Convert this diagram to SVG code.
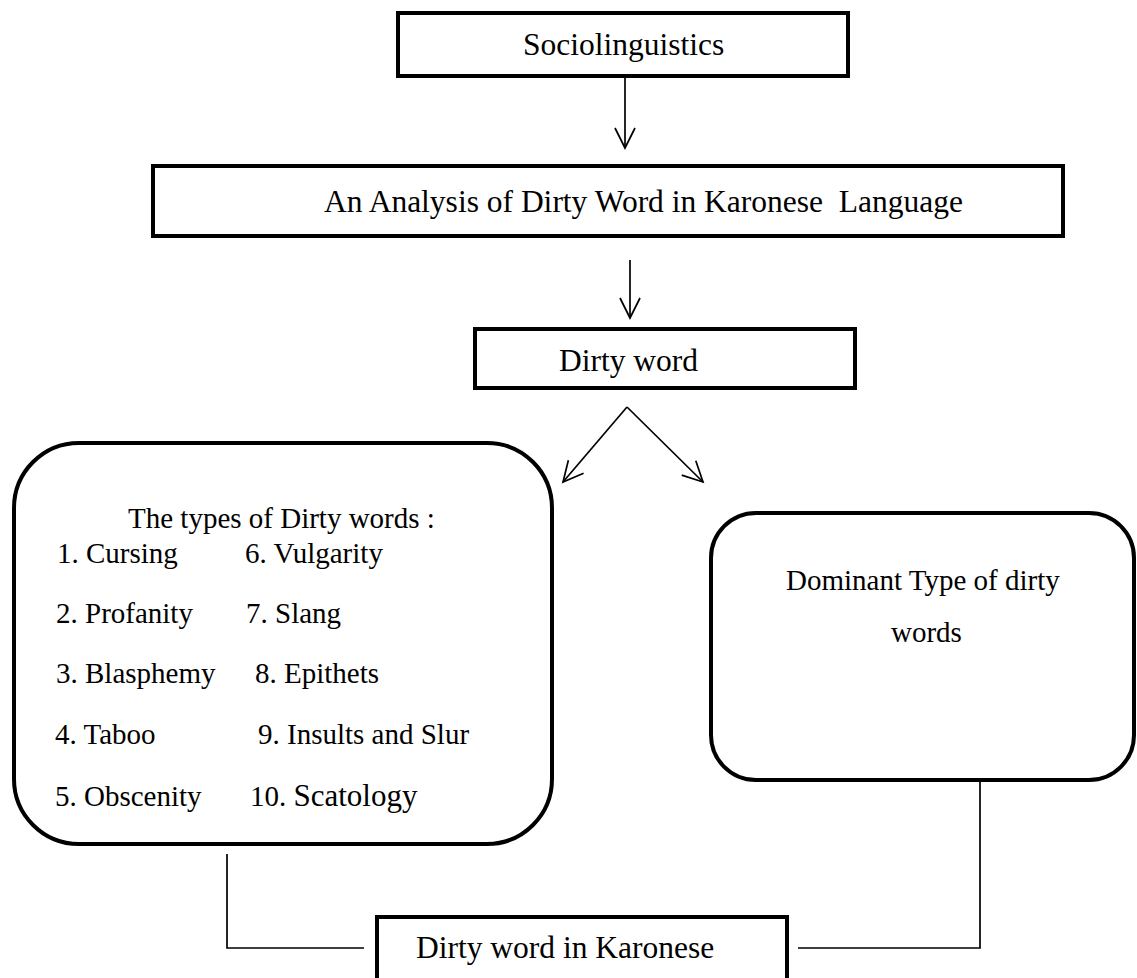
<svg xmlns="http://www.w3.org/2000/svg" width="1137" height="978" viewBox="0 0 1137 978">
<style>
  .box { fill: #ffffff; stroke: #000000; stroke-width: 4; }
  .conn { fill: none; stroke: #000000; stroke-width: 1.7; }
  .t { font-family: "Liberation Serif", "Times New Roman", serif; fill: #000000; white-space: pre; }
  .big { font-size: 31.5px; }
  .mid { font-size: 29px; }
</style>
<defs>
  <marker id="vhead" markerUnits="userSpaceOnUse" markerWidth="30" markerHeight="30" refX="0" refY="0" orient="auto" viewBox="-25 -15 30 30" overflow="visible">
    <path d="M-20,-10 L0,0 L-20,10" fill="none" stroke="#000000" stroke-width="1.7"/>
  </marker>
</defs>
<rect width="1137" height="978" fill="#ffffff"/>

<g id="connectors">
  <line class="conn" x1="625" y1="76" x2="625" y2="148" marker-end="url(#vhead)"/>
  <line class="conn" x1="630" y1="260" x2="630" y2="318" marker-end="url(#vhead)"/>
  <line class="conn" x1="627" y1="407" x2="563" y2="482" marker-end="url(#vhead)"/>
  <line class="conn" x1="627" y1="407" x2="703" y2="482" marker-end="url(#vhead)"/>
  <polyline class="conn" points="227,854 227,948 364,948"/>
  <polyline class="conn" points="980,765 980,948 798,948"/>
</g>

<g id="node-sociolinguistics">
  <rect class="box" x="398" y="13" width="450" height="63"/>
  <text class="t big" x="523" y="55">Sociolinguistics</text>
</g>

<g id="node-analysis">
  <rect class="box" x="153" y="166" width="910" height="70"/>
  <text class="t big" x="324" y="212">An Analysis of Dirty Word in Karonese  Language</text>
</g>

<g id="node-dirty-word">
  <rect class="box" x="475" y="329" width="380" height="59"/>
  <text class="t big" x="559" y="371">Dirty word</text>
</g>

<g id="node-types">
  <rect class="box" x="14" y="443" width="538" height="401" rx="65" ry="65"/>
  <text class="t mid" x="128" y="528">The types of Dirty words :</text>
  <text class="t mid" x="57" y="563">1. Cursing</text>
  <text class="t mid" x="245" y="563">6. Vulgarity</text>
  <text class="t mid" x="56" y="623">2. Profanity</text>
  <text class="t mid" x="246" y="623">7. Slang</text>
  <text class="t mid" x="56" y="683">3. Blasphemy</text>
  <text class="t mid" x="255" y="683">8. Epithets</text>
  <text class="t mid" x="55" y="744">4. Taboo</text>
  <text class="t mid" x="258" y="744">9. Insults and Slur</text>
  <text class="t mid" x="55" y="806">5. Obscenity</text>
  <text class="t mid" x="250" y="806">10. <tspan font-size="31px">Scatology</tspan></text>
</g>

<g id="node-dominant">
  <rect class="box" x="711" y="513" width="423" height="267" rx="45" ry="45"/>
  <text class="t mid" x="786" y="590">Dominant Type of dirty</text>
  <text class="t mid" x="891" y="642">words</text>
</g>

<g id="node-karonese">
  <rect class="box" x="377" y="917" width="410" height="80"/>
  <text class="t big" x="416" y="958">Dirty word in Karonese</text>
</g>
</svg>
